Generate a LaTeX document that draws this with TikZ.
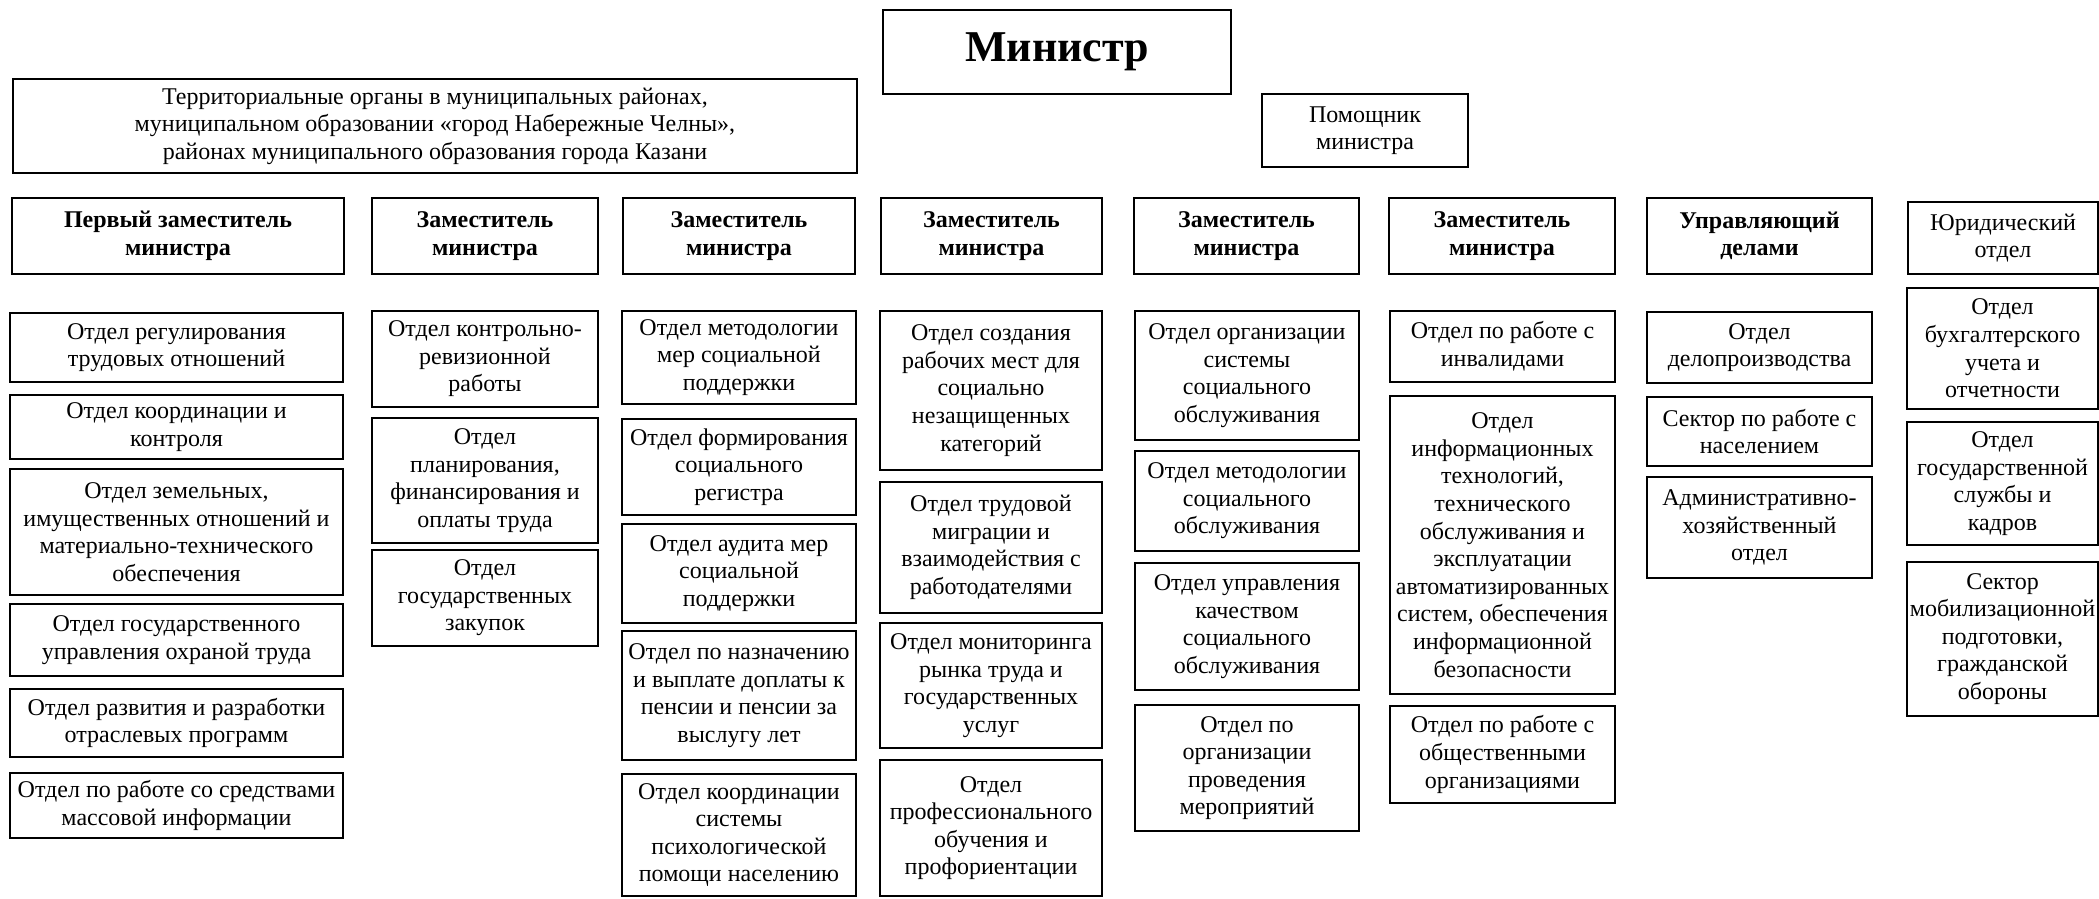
\documentclass[tikz,border=0pt]{standalone}
\usepackage{fontspec}
\setmainfont{Liberation Serif}
\tikzset{
  box/.style={draw, line width=0.9pt, align=center, inner sep=0pt,
    font=\fontsize{12}{13.8}\selectfont},
  headbox/.style={font=\fontsize{12}{13.8}\selectfont\bfseries},
  topbox/.style={font=\fontsize{22}{26}\selectfont\bfseries}
}
\newcommand\orgbox[7][]{%
  \pgfmathsetmacro\obcx{(#3+#5)/2}%
  \pgfmathsetmacro\obcy{(#4+#6)/2}%
  \pgfmathsetmacro\obw{(#5-#3)*0.5}%
  \pgfmathsetmacro\obh{(#6-#4)*0.5}%
  \node[box,#1,minimum width=\obw pt,minimum height=\obh pt] (#2) at (\obcx,\obcy) {#7};%
}
\begin{document}
\begin{tikzpicture}[x=0.5pt,y=-0.5pt]
\useasboundingbox (0,0) rectangle (2099,899);
\fill[white] (0,0) rectangle (2099,899);
\clip (0,0) rectangle (2099,899);

% top level
\orgbox[topbox]{minister}{883}{10}{1231}{94}{Министр}
\orgbox{terr}{13}{79}{857}{173}{Территориальные органы в муниципальных районах,\\муниципальном образовании «город Набережные Челны»,\\районах муниципального образования города Казани}
\orgbox{pom}{1262}{94}{1468}{167}{Помощник\\министра}

% heads
\orgbox[headbox]{h1}{12}{198}{344}{274}{Первый заместитель\\министра}
\orgbox[headbox]{h2}{372}{198}{598}{274}{Заместитель\\министра}
\orgbox[headbox]{h3}{623}{198}{855}{274}{Заместитель\\министра}
\orgbox[headbox]{h4}{881}{198}{1102}{274}{Заместитель\\министра}
\orgbox[headbox]{h5}{1134}{198}{1359}{274}{Заместитель\\министра}
\orgbox[headbox]{h6}{1389}{198}{1615}{274}{Заместитель\\министра}
\orgbox[headbox]{h7}{1647}{198}{1872}{274}{Управляющий\\делами}
\orgbox{h8}{1908}{202}{2098}{274}{Юридический\\отдел}

% column 1
\orgbox{c1a}{10}{313}{343}{382}{Отдел регулирования\\трудовых отношений}
\orgbox{c1b}{10}{395}{343}{459}{Отдел координации и\\контроля}
\orgbox{c1c}{10}{469}{343}{595}{Отдел земельных,\\имущественных отношений и\\материально-технического\\обеспечения}
\orgbox{c1d}{10}{604}{343}{676}{Отдел государственного\\управления охраной труда}
\orgbox{c1e}{10}{689}{343}{757}{Отдел развития и разработки\\отраслевых программ}
\orgbox{c1f}{10}{773}{343}{838}{Отдел по работе со средствами\\массовой информации}

% column 2
\orgbox{c2a}{372}{311}{598}{407}{Отдел контрольно-\\ревизионной\\работы}
\orgbox{c2b}{372}{418}{598}{543}{Отдел\\планирования,\\финансирования и\\оплаты труда}
\orgbox{c2c}{372}{550}{598}{646}{Отдел\\государственных\\закупок}

% column 3
\orgbox{c3a}{622}{311}{856}{404}{Отдел методологии\\мер социальной\\поддержки}
\orgbox{c3b}{622}{419}{856}{515}{Отдел формирования\\социального\\регистра}
\orgbox{c3c}{622}{524}{856}{623}{Отдел аудита мер\\социальной\\поддержки}
\orgbox{c3d}{622}{631}{856}{760}{Отдел по назначению\\и выплате доплаты к\\пенсии и пенсии за\\выслугу лет}
\orgbox{c3e}{622}{774}{856}{896}{Отдел координации\\системы\\психологической\\помощи населению}

% column 4
\orgbox{c4a}{880}{311}{1102}{470}{Отдел создания\\рабочих мест для\\социально\\незащищенных\\категорий}
\orgbox{c4b}{880}{482}{1102}{613}{Отдел трудовой\\миграции и\\взаимодействия с\\работодателями}
\orgbox{c4c}{880}{623}{1102}{748}{Отдел мониторинга\\рынка труда и\\государственных\\услуг}
\orgbox{c4d}{880}{760}{1102}{896}{Отдел\\профессионального\\обучения и\\профориентации}

% column 5
\orgbox{c5a}{1135}{311}{1359}{440}{Отдел организации\\системы\\социального\\обслуживания}
\orgbox{c5b}{1135}{451}{1359}{551}{Отдел методологии\\социального\\обслуживания}
\orgbox{c5c}{1135}{563}{1359}{690}{Отдел управления\\качеством\\социального\\обслуживания}
\orgbox{c5d}{1135}{705}{1359}{831}{Отдел по\\организации\\проведения\\мероприятий}

% column 6
\orgbox{c6a}{1390}{311}{1615}{382}{Отдел по работе с\\инвалидами}
\orgbox{c6b}{1390}{396}{1615}{694}{Отдел\\информационных\\технологий,\\технического\\обслуживания и\\эксплуатации\\автоматизированных\\систем, обеспечения\\информационной\\безопасности}
\orgbox{c6c}{1390}{706}{1615}{803}{Отдел по работе с\\общественными\\организациями}

% column 7
\orgbox{c7a}{1647}{312}{1872}{383}{Отдел\\делопроизводства}
\orgbox{c7b}{1647}{397}{1872}{466}{Сектор по работе с\\населением}
\orgbox{c7c}{1647}{477}{1872}{578}{Административно-\\хозяйственный\\отдел}

% column 8
\orgbox{c8a}{1907}{288}{2098}{409}{Отдел\\бухгалтерского\\учета и\\отчетности}
\orgbox{c8b}{1907}{422}{2098}{545}{Отдел\\государственной\\службы и\\кадров}
\orgbox{c8c}{1907}{562}{2098}{716}{Сектор\\мобилизационной\\подготовки,\\гражданской\\обороны}
\end{tikzpicture}
\end{document}
